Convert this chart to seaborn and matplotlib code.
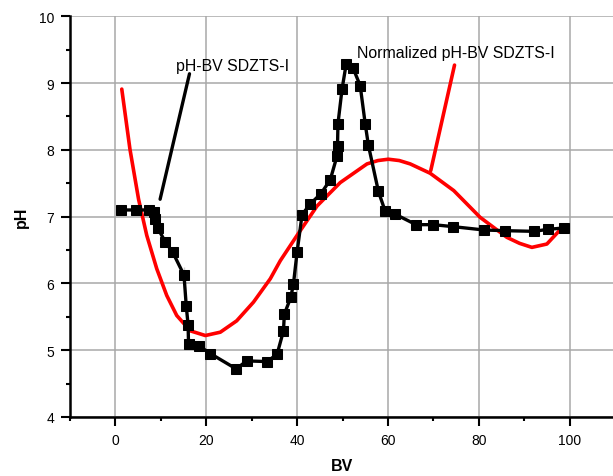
import numpy as np
import pandas as pd
import matplotlib
matplotlib.use("Agg")
import matplotlib.pyplot as plt
import seaborn as sns
from matplotlib.ticker import MultipleLocator

# 实测 pH-BV 数据点（黑线）
bv = [1.3, 4.6, 7.5, 8.4, 8.7, 9.3, 11.0, 12.6, 15.1, 15.1, 15.6, 16.0, 16.1,
      18.3, 20.9, 26.6, 28.9, 33.4, 35.6, 37.0, 37.2, 38.6, 39.2, 40.0, 41.1,
      42.9, 45.2, 47.3, 48.8, 48.9, 49.0, 49.9, 50.8, 52.3, 53.9, 55.0, 55.7,
      57.9, 59.4, 61.5, 66.2, 70.0, 74.4, 81.2, 85.8, 92.2, 95.2, 98.7]
ph = [7.10, 7.10, 7.10, 7.07, 6.97, 6.83, 6.62, 6.47, 6.24, 6.01, 5.66, 5.38, 5.09,
      5.07, 4.95, 4.72, 4.84, 4.83, 4.94, 5.29, 5.54, 5.79, 5.99, 6.47, 7.03,
      7.19, 7.34, 7.55, 7.91, 8.06, 8.39, 8.91, 9.28, 9.23, 8.96, 8.39, 8.07,
      7.38, 7.08, 7.04, 6.88, 6.88, 6.85, 6.80, 6.79, 6.78, 6.81, 6.83]

# 归一化曲线（红线）
bv_norm = [1.4, 3.2, 5.1, 6.9, 9.1, 11.3, 13.5, 16.5, 19.8, 23.1, 26.7, 30.4,
           34.1, 36.3, 40.0, 44.4, 49.5, 55.4, 57.8, 60.1, 62.5, 64.9, 69.3,
           74.5, 80.3, 86.2, 89.0, 91.7, 95.0, 98.7]
ph_norm = [8.91, 8.01, 7.26, 6.72, 6.22, 5.82, 5.52, 5.29, 5.22, 5.27, 5.44, 5.72,
           6.07, 6.34, 6.72, 7.16, 7.51, 7.79, 7.84, 7.86, 7.84, 7.79, 7.65,
           7.39, 6.99, 6.69, 6.60, 6.54, 6.59, 6.86]

df = pd.DataFrame({"BV": bv, "pH": ph})
df_norm = pd.DataFrame({"BV": bv_norm, "pH": ph_norm})

sns.set_style("ticks")
plt.rcParams["font.family"] = ["Liberation Sans", "DejaVu Sans"]
plt.rcParams["text.color"] = "black"
plt.rcParams["axes.labelcolor"] = "black"

fig = plt.figure(figsize=(6.13, 4.77), dpi=100)
ax = fig.add_axes([70 / 613, 59 / 477, 545 / 613, 400.7 / 477])

sns.lineplot(data=df_norm, x="BV", y="pH", sort=False, color="#ff0000",
             linewidth=2.6, ax=ax, zorder=3)
sns.lineplot(data=df, x="BV", y="pH", sort=False, color="black", linewidth=2.4,
             marker="s", markersize=6.5, markeredgecolor="black", ax=ax, zorder=4)

ax.set_xlim(-10, 110)
ax.set_ylim(4, 10)
ax.xaxis.set_major_locator(MultipleLocator(20))
ax.xaxis.set_minor_locator(MultipleLocator(10))
ax.yaxis.set_major_locator(MultipleLocator(1))
ax.yaxis.set_minor_locator(MultipleLocator(0.5))
ax.grid(True, which="major", color="#a8a8a8", linewidth=1.1)
ax.set_axisbelow(True)

for s in ["top", "right"]:
    ax.spines[s].set_visible(False)
for s in ["left", "bottom"]:
    ax.spines[s].set_linewidth(1.8)
    ax.spines[s].set_color("black")

ax.tick_params(which="major", direction="out", length=6.5, width=1.5,
               labelsize=10, bottom=True, left=True, pad=5, color="black",
               labelcolor="black")
ax.tick_params(which="minor", direction="out", length=3, width=1.5,
               bottom=True, left=True, color="black")

ax.set_xlabel("BV", fontsize=11.5, fontweight="bold", labelpad=8)
ax.set_ylabel("pH", fontsize=11.5, fontweight="bold", labelpad=7)

# 标注
ax.annotate("", xy=(9.7, 7.22), xytext=(16.45, 9.18),
            arrowprops=dict(arrowstyle="-", color="black", lw=2.4))
ax.text(13.35, 9.2, "pH-BV SDZTS-I", fontsize=11.4, va="baseline", ha="left",
        color="black")
ax.annotate("", xy=(69.3, 7.65), xytext=(74.8, 9.31),
            arrowprops=dict(arrowstyle="-", color="#ff0000", lw=2.6))
ax.text(53.2, 9.39, "Normalized pH-BV SDZTS-I", fontsize=11.4, va="baseline",
        ha="left", color="black")

fig.savefig("out.png", dpi=100)
